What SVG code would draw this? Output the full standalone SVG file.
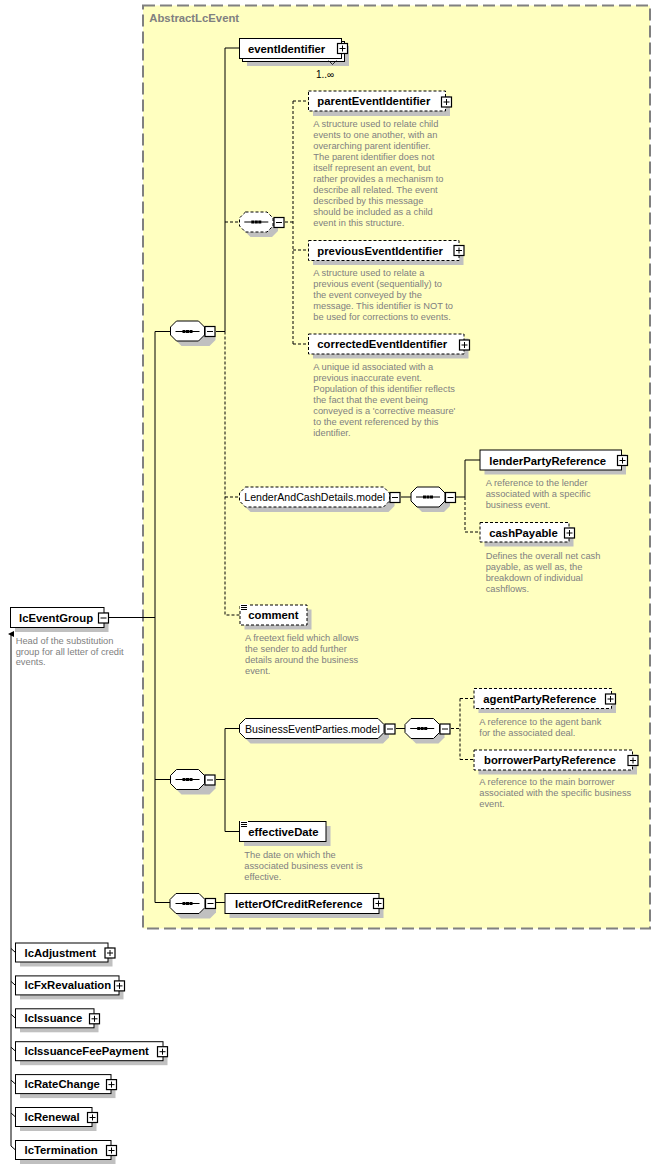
<svg xmlns="http://www.w3.org/2000/svg" xmlns:xlink="http://www.w3.org/1999/xlink" width="661" height="1170" viewBox="0 0 661 1170">
<style>
.bx{fill:#fff;stroke:#000;stroke-width:1}
.dsh{stroke-dasharray:3,2}
.sh{fill:#c0c0c0}
.c{fill:none;stroke:#000;stroke-width:1}
.cd{fill:none;stroke:#000;stroke-width:1;stroke-dasharray:3,2}
.lbl{font-family:"Liberation Sans",Arial,sans-serif;font-weight:bold;font-size:11.3px;fill:#000}
.mdl{font-family:"Liberation Sans",Arial,sans-serif;font-size:10.6px;fill:#000}
.desc{font-family:"Liberation Sans",Arial,sans-serif;font-size:9.3px;fill:#808080}
.grp{font-family:"Liberation Sans",Arial,sans-serif;font-weight:bold;font-size:11.3px;fill:#808080}
.occ{font-family:"Liberation Sans",Arial,sans-serif;font-size:10px;fill:#000}
</style>
<defs>
<g id="plus"><rect x="0.5" y="0.5" width="10" height="10" fill="#fff" stroke="#000" stroke-width="1.2"/><path d="M2.5 5.5H8.5M5.5 2.5V8.5" stroke="#000" stroke-width="1"/></g>
<g id="minus"><rect x="0.5" y="0.5" width="10" height="10" fill="#fff" stroke="#000" stroke-width="1.2"/><path d="M2.5 5.5H8.5" stroke="#000" stroke-width="1"/></g>
<g id="seqglyph"><path d="M-12 0H12" stroke="#000" stroke-width="1"/><rect x="-5" y="-1.5" width="3" height="3" fill="#000"/><rect x="-1.5" y="-1.5" width="3" height="3" fill="#000"/><rect x="2" y="-1.5" width="3" height="3" fill="#000"/></g>
<g id="docicon"><rect x="0" y="0" width="8" height="7" fill="#fff"/><path d="M1 1.5H7M1 3.5H7M1 5.5H7" stroke="#000" stroke-width="1"/></g>
<marker id="arr" markerWidth="6" markerHeight="6" refX="3" refY="0" orient="auto" markerUnits="userSpaceOnUse" viewBox="0 -3 6 6"><path d="M0 3L3 -3L6 3Z" fill="#000"/></marker>
</defs>

<g id="AbstractLcEvent">
<rect x="143" y="5.5" width="507" height="923" fill="#ffffc0" stroke="#808080" stroke-width="2" stroke-dasharray="12,5"/>
<text class="grp" x="149.3" y="22">AbstractLcEvent</text>
</g>

<g id="connectors">
<path class="c" d="M109 617.5H155M155 331.5V902.5M155 331.5H170.5M155 779.5H170.5M155 902.5H170"/>
<path class="c" d="M216 331.5H225M225 331.5V48H239.5"/>
<path class="cd" d="M225 331.5V615H240M225 222H239.5M225 497H239.5"/>
<path class="cd" d="M285 222H293M293 101V344M293 101H308.5M293 250H308.5M293 344H308.5"/>
<path class="c" d="M401 497H411M456 497H465M465 497V460H480"/>
<path class="cd" d="M465 497V532H480"/>
<path class="c" d="M216 779.5H225M225 728.5V831.5M225 728.5H239.5M225 831.5H239.5M396 728.5H405"/>
<path class="cd" d="M451 728.5H460M460 698.5V759.5M460 698.5H474M460 759.5H474"/>
<path class="c" d="M216 902.5H225"/>
<path class="c" d="M11 1146V634" marker-end="url(#arr)"/>
<path class="c" d="M11 948.5L15.5 952.5M11 981.4L15.5 985.4M11 1014.3L15.5 1018.3M11 1047.2L15.5 1051.2M11 1080.1L15.5 1084.1M11 1113L15.5 1117M11 1146L15.5 1150"/>
</g>

<g id="lcEventGroup">
<rect class="sh" x="15" y="612" width="93.5" height="20"/>
<rect class="bx" x="10.5" y="607.5" width="93.5" height="20"/>
<text class="lbl" x="19" y="621.5">lcEventGroup</text>
<use xlink:href="#minus" x="98" y="612.5"/>
<text class="desc" x="15.7" y="643.5">Head of the substitution</text>
<text class="desc" x="15.7" y="654.5">group for all letter of credit</text>
<text class="desc" x="15.7" y="665">events.</text>
</g>

<g id="seq1">
<polygon class="sh" points="181.5,326 209.5,326 215.5,332 215.5,340 209.5,346 181.5,346 175.5,340 175.5,332"/>
<polygon class="bx" points="176.5,321 198.5,321 204.5,327 204.5,335 198.5,341 176.5,341 170.5,335 170.5,327"/>
<use xlink:href="#seqglyph" x="187.5" y="331.5"/>
<use xlink:href="#minus" x="204.5" y="326"/>
</g>

<g id="eventIdentifier">
<rect class="sh" x="247" y="46" width="102" height="20"/>
<rect class="bx" x="242.5" y="41.5" width="102" height="20"/>
<rect class="bx" x="239.5" y="38.5" width="102" height="20"/>
<path d="M328.5 60.5L332.5 64.5L336.5 60.5" fill="none" stroke="#000" stroke-width="0.8"/>
<text class="lbl" x="248" y="52.5">eventIdentifier</text>
<use xlink:href="#plus" x="337" y="43"/>
<text class="occ" x="316" y="78">1..∞</text>
</g>

<g id="choiceSeq">
<polygon class="sh" points="250.5,217 272,217 278,223 278,231 272,237 250.5,237 244.5,231 244.5,223"/>
<polygon class="bx dsh" points="245.5,212 267,212 273,218 273,226 267,232 245.5,232 239.5,226 239.5,218"/>
<use xlink:href="#seqglyph" x="256.3" y="222"/>
<use xlink:href="#minus" x="273.5" y="217"/>
</g>

<g id="parentEventIdentifier">
<rect class="sh" x="313" y="96" width="137" height="20"/>
<rect class="bx dsh" x="308.5" y="91" width="137" height="20"/>
<text class="lbl" x="317.3" y="105">parentEventIdentifier</text>
<use xlink:href="#plus" x="441" y="96.5"/>
<text class="desc" x="313.3" y="127">A structure used to relate child</text>
<text class="desc" x="313.3" y="138">events to one another, with an</text>
<text class="desc" x="313.3" y="149">overarching parent identifier.</text>
<text class="desc" x="313.3" y="160">The parent identifier does not</text>
<text class="desc" x="313.3" y="171">itself represent an event, but</text>
<text class="desc" x="313.3" y="182">rather provides a mechanism to</text>
<text class="desc" x="313.3" y="193">describe all related. The event</text>
<text class="desc" x="313.3" y="204">described by this message</text>
<text class="desc" x="313.3" y="215">should be included as a child</text>
<text class="desc" x="313.3" y="226">event in this structure.</text>
</g>

<g id="previousEventIdentifier">
<rect class="sh" x="313" y="245" width="150.5" height="20"/>
<rect class="bx dsh" x="308.5" y="240.5" width="150.5" height="20"/>
<text class="lbl" x="317.3" y="254.5">previousEventIdentifier</text>
<use xlink:href="#plus" x="453.5" y="245"/>
<text class="desc" x="313.3" y="276">A structure used to relate a</text>
<text class="desc" x="313.3" y="287">previous event (sequentially) to</text>
<text class="desc" x="313.3" y="298">the event conveyed by the</text>
<text class="desc" x="313.3" y="309">message. This identifier is NOT to</text>
<text class="desc" x="313.3" y="320">be used for corrections to events.</text>
</g>

<g id="correctedEventIdentifier">
<rect class="sh" x="313" y="338.5" width="155.5" height="20"/>
<rect class="bx dsh" x="308.5" y="334" width="155.5" height="20"/>
<text class="lbl" x="317.3" y="348">correctedEventIdentifier</text>
<use xlink:href="#plus" x="459" y="339.5"/>
<text class="desc" x="313.3" y="370">A unique id associated with a</text>
<text class="desc" x="313.3" y="381">previous inaccurate event.</text>
<text class="desc" x="313.3" y="392">Population of this identifier reflects</text>
<text class="desc" x="313.3" y="403">the fact that the event being</text>
<text class="desc" x="313.3" y="414">conveyed is a 'corrective measure'</text>
<text class="desc" x="313.3" y="425">to the event referenced by this</text>
<text class="desc" x="313.3" y="436">identifier.</text>
</g>

<g id="LenderAndCashDetails.model">
<polygon class="sh" points="250.5,492 388.5,492 394.5,498 394.5,506 388.5,512 250.5,512 244.5,506 244.5,498"/>
<polygon class="bx dsh" points="245.5,487 383.5,487 389.5,493 389.5,501 383.5,507 245.5,507 239.5,501 239.5,493"/>
<text class="mdl" x="244.3" y="501">LenderAndCashDetails.model</text>
<use xlink:href="#minus" x="389.5" y="492"/>
</g>

<g id="lenderSeq">
<polygon class="sh" points="422,492 444,492 450,498 450,506 444,512 422,512 416,506 416,498"/>
<polygon class="bx" points="417,487 439,487 445,493 445,501 439,507 417,507 411,501 411,493"/>
<use xlink:href="#seqglyph" x="428" y="497"/>
<use xlink:href="#minus" x="445" y="492"/>
</g>

<g id="lenderPartyReference">
<rect class="sh" x="484.5" y="454.5" width="141.5" height="20"/>
<rect class="bx" x="480" y="450" width="141.5" height="20"/>
<text class="lbl" x="489.3" y="464.5">lenderPartyReference</text>
<use xlink:href="#plus" x="617" y="455"/>
<text class="desc" x="485.7" y="486">A reference to the lender</text>
<text class="desc" x="485.7" y="497">associated with a specific</text>
<text class="desc" x="485.7" y="508">business event.</text>
</g>

<g id="cashPayable">
<rect class="sh" x="484.5" y="527" width="89" height="19.5"/>
<rect class="bx dsh" x="480" y="522.5" width="89" height="19.5"/>
<text class="lbl" x="489.3" y="536.5">cashPayable</text>
<use xlink:href="#plus" x="564" y="527.5"/>
<text class="desc" x="485.7" y="558.5">Defines the overall net cash</text>
<text class="desc" x="485.7" y="569.5">payable, as well as, the</text>
<text class="desc" x="485.7" y="580.5">breakdown of individual</text>
<text class="desc" x="485.7" y="591.5">cashflows.</text>
</g>

<g id="comment">
<rect class="sh" x="244.5" y="609.5" width="67" height="20"/>
<rect class="bx dsh" x="240" y="605" width="67" height="20"/>
<use xlink:href="#docicon" x="240" y="604"/>
<text class="lbl" x="248.3" y="619">comment</text>
<text class="desc" x="245" y="641">A freetext field which allows</text>
<text class="desc" x="245" y="652">the sender to add further</text>
<text class="desc" x="245" y="663">details around the business</text>
<text class="desc" x="245" y="674">event.</text>
</g>

<g id="seq2">
<polygon class="sh" points="181.5,774.5 209.5,774.5 215.5,780.5 215.5,788.5 209.5,794.5 181.5,794.5 175.5,788.5 175.5,780.5"/>
<polygon class="bx" points="176.5,769.5 198.5,769.5 204.5,775.5 204.5,783.5 198.5,789.5 176.5,789.5 170.5,783.5 170.5,775.5"/>
<use xlink:href="#seqglyph" x="187.5" y="779.5"/>
<use xlink:href="#minus" x="204.5" y="774.5"/>
</g>

<g id="BusinessEventParties.model">
<polygon class="sh" points="250.5,723.5 383,723.5 389,729.5 389,737.5 383,743.5 250.5,743.5 244.5,737.5 244.5,729.5"/>
<polygon class="bx" points="245.5,718.5 378,718.5 384,724.5 384,732.5 378,738.5 245.5,738.5 239.5,732.5 239.5,724.5"/>
<text class="mdl" x="245" y="732.5">BusinessEventParties.model</text>
<use xlink:href="#minus" x="384.5" y="723.5"/>
</g>

<g id="bepSeq">
<polygon class="sh" points="416,723.5 438.5,723.5 444.5,729.5 444.5,737.5 438.5,743.5 416,743.5 410,737.5 410,729.5"/>
<polygon class="bx" points="411,718.5 433.5,718.5 439.5,724.5 439.5,732.5 433.5,738.5 411,738.5 405,732.5 405,724.5"/>
<use xlink:href="#seqglyph" x="422.2" y="728.5"/>
<use xlink:href="#minus" x="439.5" y="723.5"/>
</g>

<g id="agentPartyReference">
<rect class="sh" x="478.5" y="693" width="137.5" height="20"/>
<rect class="bx dsh" x="474" y="688.5" width="137.5" height="20"/>
<text class="lbl" x="483.3" y="702.5">agentPartyReference</text>
<use xlink:href="#plus" x="605" y="693.5"/>
<text class="desc" x="479.3" y="724.5">A reference to the agent bank</text>
<text class="desc" x="479.3" y="735.5">for the associated deal.</text>
</g>

<g id="borrowerPartyReference">
<rect class="sh" x="478.5" y="754.5" width="158.5" height="20"/>
<rect class="bx dsh" x="474" y="750" width="158.5" height="20"/>
<text class="lbl" x="484" y="764">borrowerPartyReference</text>
<use xlink:href="#plus" x="627.5" y="755"/>
<text class="desc" x="479.3" y="785">A reference to the main borrower</text>
<text class="desc" x="479.3" y="796">associated with the specific business</text>
<text class="desc" x="479.3" y="807">event.</text>
</g>

<g id="effectiveDate">
<rect class="sh" x="244" y="826" width="86.5" height="20"/>
<rect class="bx" x="239.5" y="821.5" width="86.5" height="20"/>
<use xlink:href="#docicon" x="240" y="821"/>
<text class="lbl" x="248.3" y="835.5">effectiveDate</text>
<text class="desc" x="244.3" y="857.5">The date on which the</text>
<text class="desc" x="244.3" y="868.5">associated business event is</text>
<text class="desc" x="244.3" y="879.5">effective.</text>
</g>

<g id="seq3">
<polygon class="sh" points="181,898.5 210,898.5 216,904.5 216,912.5 210,918.5 181,918.5 175,912.5 175,904.5"/>
<polygon class="bx" points="176,893.5 199,893.5 205,899.5 205,907.5 199,913.5 176,913.5 170,907.5 170,899.5"/>
<use xlink:href="#seqglyph" x="187.5" y="903.5"/>
<use xlink:href="#minus" x="205" y="898"/>
</g>

<g id="letterOfCreditReference">
<rect class="sh" x="229.5" y="898" width="154" height="20"/>
<rect class="bx" x="225" y="893.5" width="154" height="20"/>
<text class="lbl" x="235" y="907.5">letterOfCreditReference</text>
<use xlink:href="#plus" x="373" y="898"/>
</g>

<g id="lcAdjustment">
<rect class="sh" x="20" y="947.5" width="92.5" height="19"/>
<rect class="bx" x="15.5" y="943" width="92.5" height="19"/>
<text class="lbl" x="24.5" y="956.5">lcAdjustment</text>
<use xlink:href="#plus" x="104.5" y="947.5"/>
</g>
<g id="lcFxRevaluation">
<rect class="sh" x="20" y="980.4" width="103.5" height="19"/>
<rect class="bx" x="15.5" y="975.9" width="103.5" height="19"/>
<text class="lbl" x="24.5" y="989.4">lcFxRevaluation</text>
<use xlink:href="#plus" x="114" y="980.4"/>
</g>
<g id="lcIssuance">
<rect class="sh" x="20" y="1013.3" width="78.5" height="19"/>
<rect class="bx" x="15.5" y="1008.8" width="78.5" height="19"/>
<text class="lbl" x="24.5" y="1022.3">lcIssuance</text>
<use xlink:href="#plus" x="89" y="1013.3"/>
</g>
<g id="lcIssuanceFeePayment">
<rect class="sh" x="20" y="1046.2" width="147.5" height="19"/>
<rect class="bx" x="15.5" y="1041.7" width="147.5" height="19"/>
<text class="lbl" x="24.5" y="1055.2">lcIssuanceFeePayment</text>
<use xlink:href="#plus" x="157" y="1046.2"/>
</g>
<g id="lcRateChange">
<rect class="sh" x="20" y="1079.1" width="95.5" height="19"/>
<rect class="bx" x="15.5" y="1074.6" width="95.5" height="19"/>
<text class="lbl" x="24.5" y="1088.1">lcRateChange</text>
<use xlink:href="#plus" x="106" y="1079.1"/>
</g>
<g id="lcRenewal">
<rect class="sh" x="20" y="1112" width="76.5" height="19"/>
<rect class="bx" x="15.5" y="1107.5" width="76.5" height="19"/>
<text class="lbl" x="24.5" y="1121">lcRenewal</text>
<use xlink:href="#plus" x="87" y="1112"/>
</g>
<g id="lcTermination">
<rect class="sh" x="20" y="1145" width="95.5" height="19"/>
<rect class="bx" x="15.5" y="1140.5" width="95.5" height="19"/>
<text class="lbl" x="24.5" y="1154">lcTermination</text>
<use xlink:href="#plus" x="106" y="1145"/>
</g>
</svg>
